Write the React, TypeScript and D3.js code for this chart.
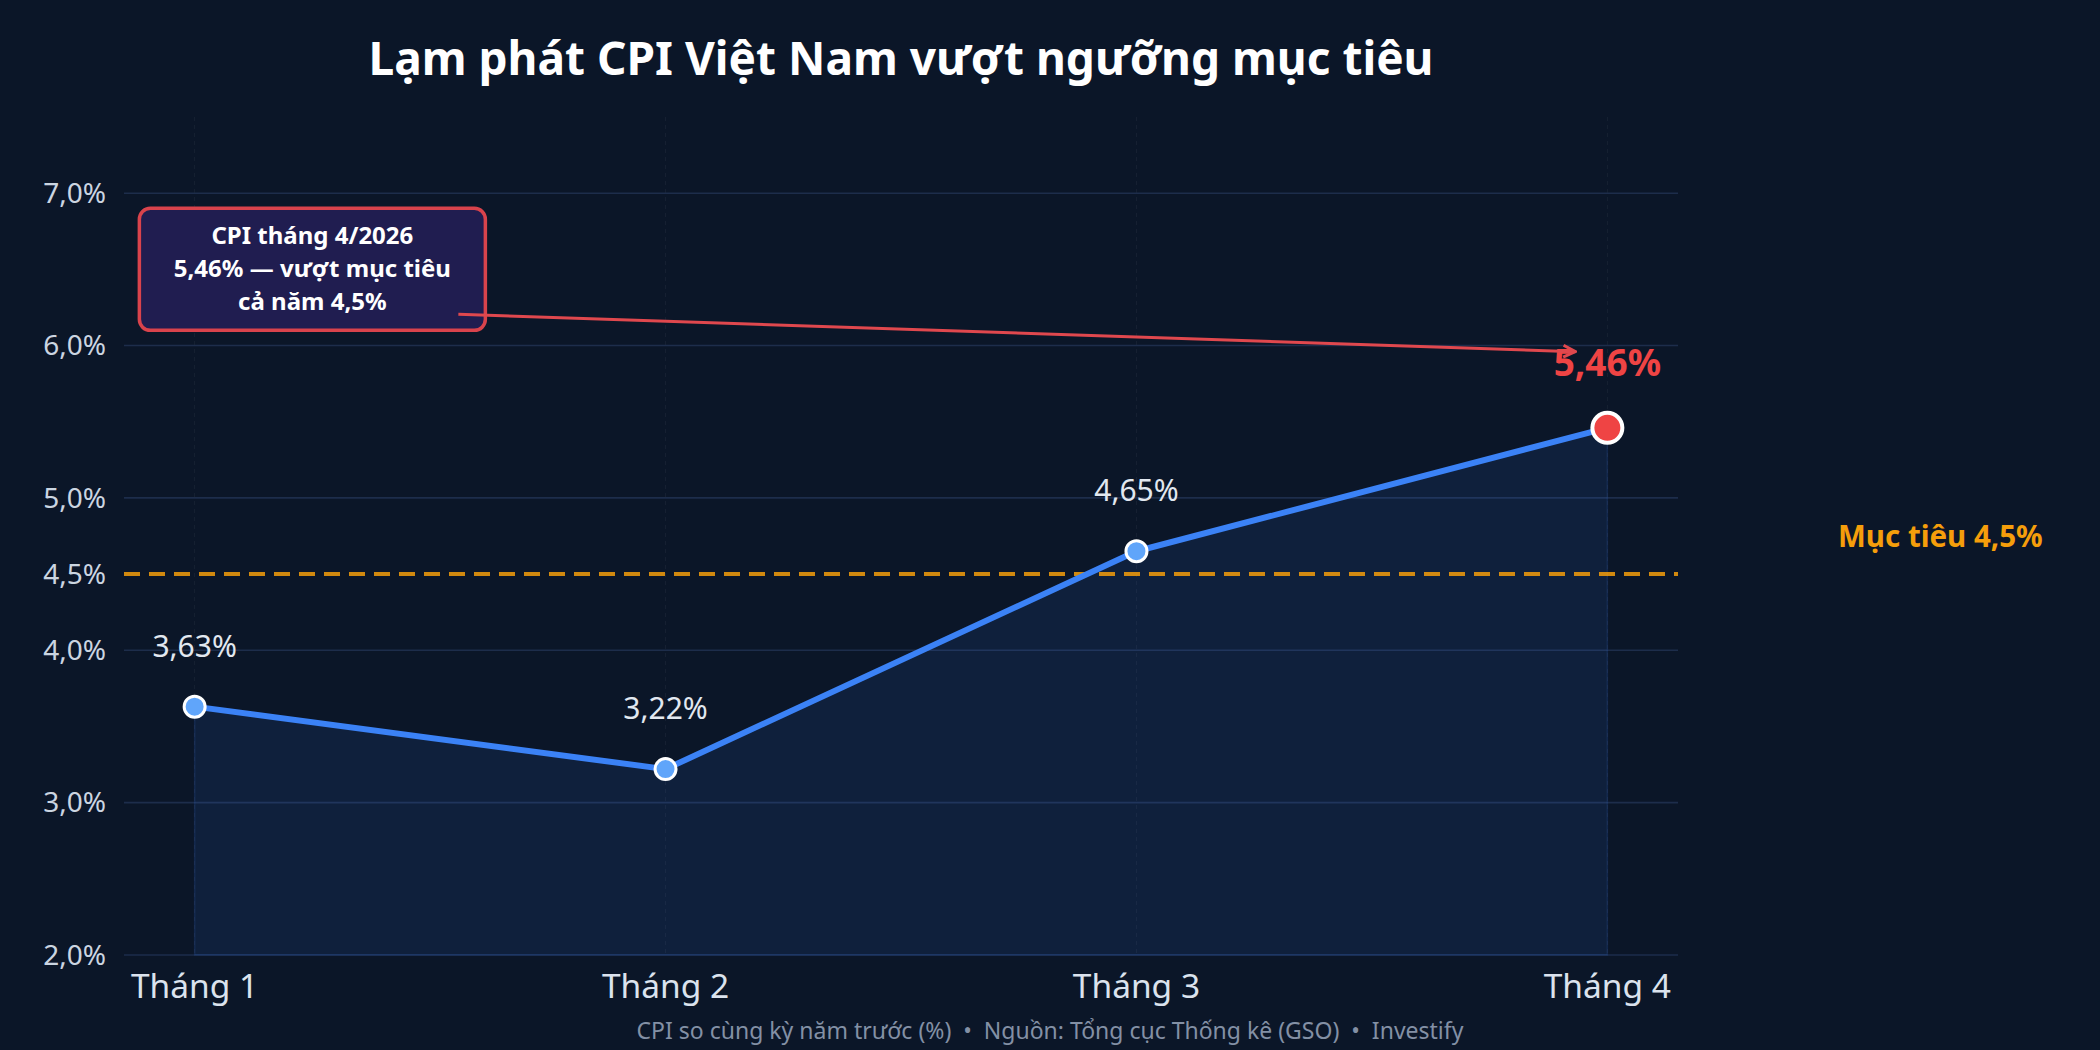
import * as d3 from 'd3';

// chart data
const months = ['Tháng 1', 'Tháng 2', 'Tháng 3', 'Tháng 4'];
const cpi = [3.63, 3.22, 4.65, 5.46];
const yTicks = [2, 3, 4, 4.5, 5, 6, 7];
const gridTicks = [2, 3, 4, 5, 6, 7];
const target = 4.5;
const title = 'Lạm phát CPI Việt Nam vượt ngưỡng mục tiêu';
const targetLabel = 'Mục tiêu 4,5%';
const noteLines = ['CPI tháng 4/2026', '5,46% — vượt mục tiêu', 'cả năm 4,5%'];
// note text centre and arrow target, in data units (month index, %)
const notePos = [0.25, 6.5];
const arrowTo = [3, 5.96];
const footer = 'CPI so cùng kỳ năm trước (%)  •  Nguồn: Tổng cục Thống kê (GSO)  •  Investify';

const W = 2100;
const H = 1050;
const margin = { top: 117, right: 422, bottom: 95, left: 124 };
const font = '"Noto Sans", "DejaVu Sans", sans-serif';

const fmtTick = (v: number) => v.toFixed(1).replace('.', ',') + '%';
const fmtVal = (v: number) => v.toFixed(2).replace('.', ',') + '%';

export default function App() {
  const x = d3
    .scalePoint<string>()
    .domain(months)
    .range([margin.left, W - margin.right])
    .padding(0.15);
  const step = x.step();
  const xi = (i: number) => (x(months[0]) as number) + i * step;

  const y = d3
    .scaleLinear()
    .domain([2, 7.5])
    .range([H - margin.bottom, margin.top]);

  const pts = cpi.map((v, i) => [x(months[i]) as number, y(v)] as [number, number]);
  const line = d3.line()(pts) as string;
  const area = d3
    .area<[number, number]>()
    .x((d) => d[0])
    .y0(y(2))
    .y1((d) => d[1])(pts) as string;

  const last = cpi.length - 1;
  const nx = xi(notePos[0]);
  const ny = y(notePos[1]);
  const boxW = 346;
  const boxH = 122;
  const ax0 = nx + 146;
  const ay0 = ny + 45;
  const ax1 = xi(arrowTo[0]) - 32;
  const ay1 = y(arrowTo[1]);

  const plotL = margin.left;
  const plotR = W - margin.right;

  return (
    <svg
      width={W}
      height={H}
      style={{ position: 'absolute', left: 0, top: 0, background: '#0b1628' }}
      fontFamily={font}
    >
      <defs>
        <marker
          id="arr"
          viewBox="-14 -8 16 16"
          markerWidth={16}
          markerHeight={16}
          markerUnits="userSpaceOnUse"
          orient="auto"
        >
          <path d="M-12,-6 L0,0 L-12,6" fill="none" stroke="#e0484e" strokeWidth={3} />
        </marker>
      </defs>
      <rect width={W} height={H} fill="#0b1628" />

      {/* vertical grid */}
      {months.map((m) => (
        <line
          key={m}
          x1={x(m)}
          x2={x(m)}
          y1={y.range()[1]}
          y2={y(2)}
          stroke="#ffffff"
          strokeOpacity={0.05}
          strokeDasharray="4,4"
        />
      ))}

      {/* horizontal grid */}
      {gridTicks.map((t) => (
        <line key={t} x1={plotL} x2={plotR} y1={y(t)} y2={y(t)} stroke="#1d2d4b" strokeWidth={1.6} />
      ))}

      {/* y tick labels */}
      {yTicks.map((t) => (
        <text
          key={t}
          x={plotL - 18}
          y={y(t)}
          dy="0.35em"
          textAnchor="end"
          fontSize={28}
          fill="#cbd5e1"
        >
          {fmtTick(t)}
        </text>
      ))}

      {/* x labels */}
      {months.map((m) => (
        <text key={m} x={x(m)} y={y(2) + 43} textAnchor="middle" fontSize={33.5} fill="#dbe3ee">
          {m}
        </text>
      ))}

      {/* area and line */}
      <path d={area} fill="#3b82f6" fillOpacity={0.1} stroke="#3b82f6" strokeOpacity={0.15} strokeWidth={1.5} />

      {/* target line */}
      <line
        x1={plotL}
        x2={plotR}
        y1={y(target)}
        y2={y(target)}
        stroke="#f59e0b"
        strokeOpacity={0.85}
        strokeWidth={4}
        strokeDasharray="16,9"
      />
      <text x={plotR + 160} y={y(target) - 27} fontSize={29.5} fontWeight={700} fill="#f59e0b">
        {targetLabel}
      </text>

      <path d={line} fill="none" stroke="#3b82f6" strokeWidth={6} strokeLinejoin="round" />

      {/* markers */}
      {pts.map(([px, py], i) =>
        i === last ? (
          <circle key={i} cx={px} cy={py} r={15} fill="#ef4444" stroke="#ffffff" strokeWidth={4} />
        ) : (
          <circle key={i} cx={px} cy={py} r={10.5} fill="#60a5fa" stroke="#ffffff" strokeWidth={3} />
        )
      )}

      {/* value labels */}
      {pts.map(([px, py], i) =>
        i === last ? (
          <text key={i} x={px} y={py - 52} textAnchor="middle" fontSize={37} fontWeight={700} fill="#ef4444">
            {fmtVal(cpi[i])}
          </text>
        ) : (
          <text key={i} x={px} y={py - 50} textAnchor="middle" fontSize={30} fill="#e2e8f0">
            {fmtVal(cpi[i])}
          </text>
        )
      )}

      {/* annotation */}
      <rect
        x={nx - boxW / 2}
        y={ny - boxH / 2}
        width={boxW}
        height={boxH}
        rx={11}
        fill="#201d50"
        stroke="#d9434c"
        strokeWidth={3.5}
      />
      <line x1={ax0} y1={ay0} x2={ax1} y2={ay1} stroke="#e0484e" strokeWidth={3} markerEnd="url(#arr)" />
      {noteLines.map((s, i) => (
        <text
          key={i}
          x={nx}
          y={ny + 7.5 + (i - 1) * 33}
          textAnchor="middle"
          fontSize={24}
          fontWeight={700}
          fill="#ffffff"
        >
          {s}
        </text>
      ))}

      {/* title and footer */}
      <text x={(plotL + plotR) / 2} y={75} textAnchor="middle" fontSize={46} fontWeight={700} fill="#ffffff">
        {title}
      </text>
      <text x={W / 2} y={1039} textAnchor="middle" fontSize={23} fill="#8390a5" style={{ whiteSpace: 'pre' }}>
        {footer}
      </text>
    </svg>
  );
}
